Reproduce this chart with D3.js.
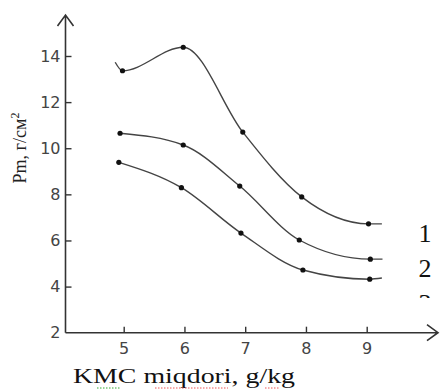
<!DOCTYPE html>
<html>
<head>
<meta charset="utf-8">
<script src="https://cdn.jsdelivr.net/npm/d3@7"></script>
<style>
  body { margin: 0; background: #fff; }
  svg { display: block; }
</style>
</head>
<body>
<svg id="chart" width="440" height="389"></svg>
<script>
// values (x = KMC g/kg, y = Pm)
const xTicks = [5, 6, 7, 8, 9];
const yTicks = [2, 4, 6, 8, 10, 12, 14];

// marked points of each curve
const curve1 = [[4.98, 13.36], [5.98, 14.38], [6.96, 10.70], [7.93, 7.89], [9.03, 6.72]];
const curve2 = [[4.94, 10.65], [5.98, 10.14], [6.91, 8.36], [7.89, 6.02], [9.06, 5.19]];
const curve3 = [[4.92, 9.39], [5.95, 8.29], [6.93, 6.32], [7.95, 4.72], [9.05, 4.32]];

// unmarked line ends
const lead1 = [[4.86, 13.73]];
const tail1 = [[9.25, 6.72]];
const tail2 = [[9.26, 5.19]];
const tail3 = [[9.25, 4.37]];

const curveLabels = ["1", "2", "3"];

const svg = d3.select("#chart");

const x = d3.scaleLinear().domain([5, 9]).range([123.7, 366.7]);
const y = d3.scaleLinear().domain([2, 14]).range([332.7, 56]);

const axisX0 = 65.5, axisY0 = 332.7;
const axisColor = "#333";

// axes lines with open arrows
svg.append("path")
    .attr("d", `M${axisX0},${axisY0}V15M${axisX0 - 8},26L${axisX0},15L${axisX0 + 8},26`)
    .attr("fill", "none").attr("stroke", axisColor).attr("stroke-width", 1.6);
svg.append("path")
    .attr("d", `M${axisX0},${axisY0}H438M427,${axisY0 - 8}L438,${axisY0}L427,${axisY0 + 8}`)
    .attr("fill", "none").attr("stroke", axisColor).attr("stroke-width", 1.6);

// ticks
const gx = svg.append("g")
    .attr("transform", `translate(0,${axisY0})`)
    .call(d3.axisBottom(x).tickValues(xTicks).tickFormat(d3.format("d"))
        .tickSizeInner(-6).tickSizeOuter(0).tickPadding(10));
const gy = svg.append("g")
    .attr("transform", `translate(${axisX0},0)`)
    .call(d3.axisLeft(y).tickValues(yTicks).tickFormat(d3.format("d"))
        .tickSizeInner(-6).tickSizeOuter(0).tickPadding(5));

[gx, gy].forEach(g => {
    g.select(".domain").remove();
    g.selectAll(".tick line").attr("stroke", axisColor).attr("stroke-width", 1.4);
    g.selectAll(".tick text")
        .attr("fill", "#444")
        .style("font-family", "DejaVu Sans, sans-serif")
        .style("font-size", "16px");
});
gy.selectAll(".tick").filter(d => d === 2).select("line").remove();

// curves
const line = d3.line()
    .x(d => x(d[0]))
    .y(d => y(d[1]))
    .curve(d3.curveMonotoneX);

const allCurves = [
    lead1.concat(curve1, tail1),
    curve2.concat(tail2),
    curve3.concat(tail3)
];

svg.selectAll(".curve")
    .data(allCurves)
    .enter()
    .append("path")
    .attr("class", "curve")
    .attr("fill", "none")
    .attr("stroke", "#444")
    .attr("stroke-width", 1.4)
    .attr("d", d => line(d));

svg.selectAll(".dot")
    .data(curve1.concat(curve2, curve3))
    .enter()
    .append("circle")
    .attr("class", "dot")
    .attr("cx", d => x(d[0]))
    .attr("cy", d => y(d[1]))
    .attr("r", 2.6)
    .attr("fill", "#111");

// curve numbers at the right, the last one cut off
svg.append("clipPath").attr("id", "labelClip")
    .append("rect").attr("x", 400).attr("y", 200).attr("width", 40).attr("height", 98);

svg.append("g")
    .attr("clip-path", "url(#labelClip)")
    .selectAll("text")
    .data(curveLabels)
    .enter()
    .append("text")
    .attr("x", 425)
    .attr("y", (d, i) => 242 + i * 35)
    .attr("text-anchor", "middle")
    .style("font-family", "Liberation Serif, Times New Roman, serif")
    .style("font-size", "26px")
    .attr("fill", "#111")
    .text(d => d);

// axis titles
svg.append("text")
    .attr("transform", "translate(26,148) rotate(-90)")
    .attr("text-anchor", "middle")
    .style("font-family", "Liberation Serif, Times New Roman, serif")
    .style("font-size", "18px")
    .attr("fill", "#222")
    .html('Pm, г/см<tspan dy="-7" font-size="12px">2</tspan>');

svg.append("text")
    .attr("x", 73)
    .attr("y", 383)
    .attr("textLength", 222)
    .attr("lengthAdjust", "spacingAndGlyphs")
    .style("font-family", "Liberation Serif, Times New Roman, serif")
    .style("font-size", "22px")
    .attr("fill", "#111")
    .text("KMC miqdori, g/kg");

// spell-check underlines
[[97, 120, "#3a3"], [155, 228, "#e55"], [265, 280, "#e55"]].forEach(([a, b, c]) => {
    svg.append("line")
        .attr("x1", a).attr("x2", b)
        .attr("y1", 388).attr("y2", 388)
        .attr("stroke", c).attr("stroke-width", 1)
        .attr("stroke-dasharray", "1.5,1.5");
});
</script>
</body>
</html>
